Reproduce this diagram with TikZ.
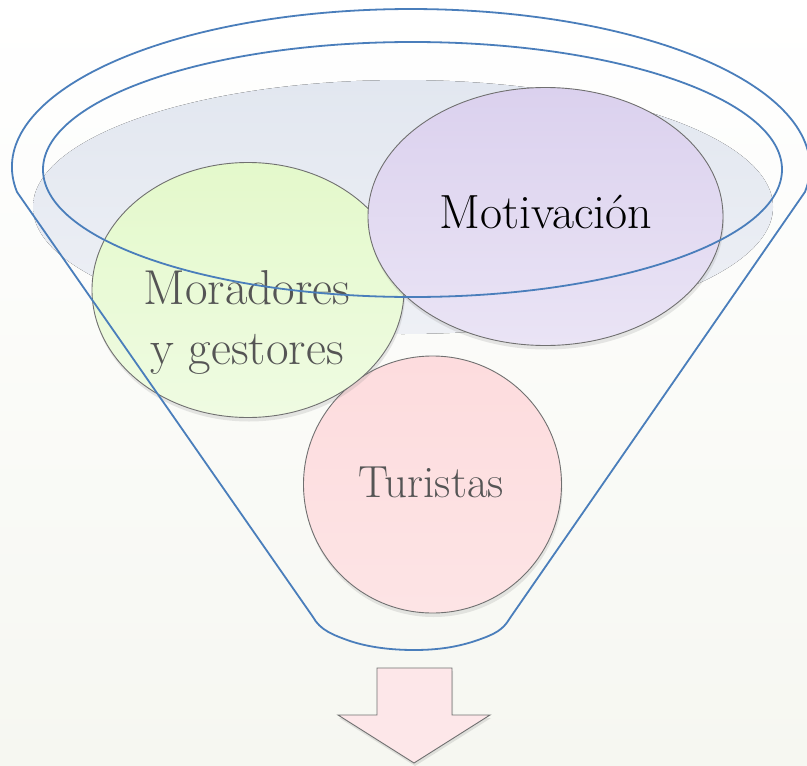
\documentclass[tikz,border=0pt]{standalone}
\usepackage{fontspec}
\usetikzlibrary{shapes.geometric,shadows}
\definecolor{bgbot}{HTML}{F6F7F1}
\definecolor{liqtop}{HTML}{E2E7F0}
\definecolor{liqbot}{HTML}{EEF0F5}
\definecolor{funnel}{HTML}{4A7EBB}
\definecolor{rimgray}{HTML}{707070}
\definecolor{greentop}{HTML}{E4F9CB}
\definecolor{greenbot}{HTML}{EFFBE2}
\definecolor{purptop}{HTML}{DBD1EE}
\definecolor{purpbot}{HTML}{EAE4F5}
\definecolor{pinktop}{HTML}{FDDCDE}
\definecolor{pinkbot}{HTML}{FDE4E5}
\definecolor{arrowfill}{HTML}{FDE7E9}
\definecolor{txtgray}{HTML}{555555}
\tikzset{
  bubble/.style={ellipse, draw=rimgray, line width=0.9pt, inner sep=0pt,
    drop shadow={shadow xshift=1pt, shadow yshift=-4pt, opacity=0.18}},
  bubbletext/.style={inner sep=0pt, align=center},
  funnelline/.style={draw=funnel, line width=1.8pt, line join=round}
}
\begin{document}
\begin{tikzpicture}[x=1pt,y=-1pt]
\useasboundingbox (0,0) rectangle (807,766);
% background
\fill[top color=white, bottom color=bgbot] (0,0) rectangle (807,766);
% liquid ellipse
\fill[top color=liqtop, bottom color=liqbot] (403,207) ellipse [x radius=370, y radius=127];
% bubbles
\node[bubble, top color=pinktop, bottom color=pinkbot, minimum width=258pt, minimum height=257pt] (tur) at (432.5,484.5) {};
\node[bubble, top color=greentop, bottom color=greenbot, minimum width=312pt, minimum height=255pt] (mor) at (248,290) {};
\node[bubble, top color=purptop, bottom color=purpbot, minimum width=355pt, minimum height=258pt] (mot) at (545.5,216.5) {};
% texts
\node[bubbletext, font=\fontsize{45}{60}\selectfont, text=txtgray, anchor=base] (turt) at (431,497) {Turistas};
\node[bubbletext, font=\fontsize{49}{60}\selectfont, text=txtgray] (mort) at (247,322) {Moradores\\y gestores};
\node[bubbletext, font=\fontsize{48}{60}\selectfont, text=black, anchor=base] (mott) at (546,228) {Motivación};
% funnel outline
\draw[funnelline] (17,192) arc[start angle=170.9, end angle=369.1, x radius=399, y radius=158]
  -- (510,618)
  .. controls (503,630) and (495,634) .. (478,640)
  .. controls (458,647) and (438,650) .. (414,650)
  .. controls (390,650) and (368,647) .. (350,641)
  .. controls (333,635) and (320,630) .. (313,617) -- cycle;
\draw[funnelline] (412.5,169.5) ellipse [x radius=369.5, y radius=127.5];
% down arrow
\filldraw[fill=arrowfill, draw=rimgray, line width=0.9pt, line join=miter,
  drop shadow={shadow xshift=1pt, shadow yshift=-3pt, opacity=0.2}]
  (377,668) -- (452,668) -- (452,715) -- (490,715) -- (414,763) -- (338,715) -- (377,715) -- cycle;
\end{tikzpicture}
\end{document}
